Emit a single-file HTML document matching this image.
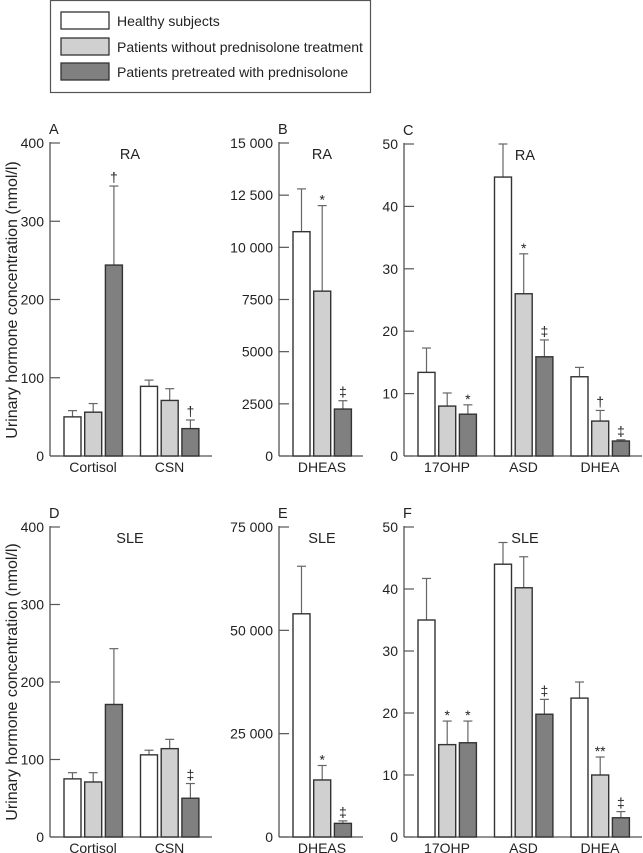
<!DOCTYPE html>
<html><head><meta charset="utf-8"><style>
body{margin:0;background:#fff}
svg{display:block;font-family:"Liberation Sans",sans-serif}
</style></head><body>
<svg id="c" width="643" height="853" viewBox="0 0 643 853">
<rect x="50.5" y="0.5" width="320" height="92" fill="#fff" stroke="#555" stroke-width="1.2"/>
<g><rect x="61" y="12" width="48" height="17" fill="#fff" stroke="#333" stroke-width="1.3"/><text x="117" y="26" font-size="14" fill="#222">Healthy subjects</text></g>
<g><rect x="61" y="38" width="48" height="17" fill="#d0d0d0" stroke="#333" stroke-width="1.3"/><text x="117" y="52" font-size="14" fill="#222">Patients without prednisolone treatment</text></g>
<g><rect x="61" y="63" width="48" height="17" fill="#808080" stroke="#333" stroke-width="1.3"/><text x="117" y="77" font-size="14" fill="#222">Patients pretreated with prednisolone</text></g>
<text transform="translate(17,300) rotate(-90)" text-anchor="middle" font-size="16" fill="#222">Urinary hormone concentration (nmol/l)</text>
<text transform="translate(17,682) rotate(-90)" text-anchor="middle" font-size="16" fill="#222">Urinary hormone concentration (nmol/l)</text>
</svg>
<script>
// Panel data
const catsA=["Cortisol","CSN"], valsA=[[50,56,244],[89,71,35]], errA=[[58,67,345],[97,86,46]], sigA=[["","","†"],["","","†"]], ticksA=[0,100,200,300,400], tickLabA=["0","100","200","300","400"];
const catsB=["DHEAS"], valsB=[[10750,7900,2250]], errB=[[12800,12000,2650]], sigB=[["","*","‡"]], ticksB=[0,2500,5000,7500,10000,12500,15000], tickLabB=["0","2500","5000","7500","10 000","12 500","15 000"];
const catsC=["17OHP","ASD","DHEA"], valsC=[[13.4,8,6.7],[44.7,26,15.9],[12.7,5.6,2.4]], errC=[[17.3,10.1,8.2],[50,32.4,18.6],[14.2,7.3,2.6]], sigC=[["","","*"],["","*","‡"],["","†","‡"]], ticksC=[0,10,20,30,40,50], tickLabC=["0","10","20","30","40","50"];
const catsD=["Cortisol","CSN"], valsD=[[75,71,171],[106,114,50]], errD=[[83,83,243],[112,126,69]], sigD=[["","",""],["","","‡"]], ticksD=[0,100,200,300,400], tickLabD=["0","100","200","300","400"];
const catsE=["DHEAS"], valsE=[[54000,13800,3300]], errE=[[65500,17300,3900]], sigE=[["","*","‡"]], ticksE=[0,25000,50000,75000], tickLabE=["0","25 000","50 000","75 000"];
const catsF=["17OHP","ASD","DHEA"], valsF=[[35,14.9,15.2],[44,40.2,19.8],[22.4,10,3.1]], errF=[[41.7,18.7,18.7],[47.5,45.2,22.2],[25,12.9,4.1]], sigF=[["","*","*"],["","","‡"],["","**","‡"]], ticksF=[0,10,20,30,40,50], tickLabF=["0","10","20","30","40","50"];

const svg=document.getElementById('c');
const NS="http://www.w3.org/2000/svg";
const fills=["#ffffff","#d0d0d0","#808080"];
function mk(tag,attrs,parent){const e=document.createElementNS(NS,tag);for(const k in attrs)e.setAttribute(k,attrs[k]);(parent||svg).appendChild(e);return e;}
function panel(id,letter,title,ax,axEnd,y0,y1,max,cats,vals,errs,sigs,ticks,labs,titleX){
  const g=mk('g',{});
  
  
  const ys=v=>y0-(v/max)*(y0-y1);
  mk('line',{x1:ax,y1:y1-1,x2:ax,y2:y0,stroke:"#555","stroke-width":1.3},g);
  mk('line',{x1:ax,y1:y0,x2:axEnd,y2:y0,stroke:"#555","stroke-width":1.3},g);
  ticks.forEach((t,i)=>{
    mk('line',{x1:ax,y1:ys(t),x2:ax+10,y2:ys(t),stroke:"#555","stroke-width":1.2},g);
    const tx=mk('text',{x:ax-6,y:ys(t)+5,"text-anchor":"end","font-size":14,fill:"#222"},g);
    tx.textContent=labs[i];
    
    
  });
  const pl=mk('text',{x:ax-1,y:y1-9,"font-size":14.5,fill:"#222"},g);pl.textContent=letter;
  
  
  const tt=mk('text',{x:titleX,y:y1+16,"text-anchor":"middle","font-size":14.5,fill:"#222"},g);tt.textContent=title;
  
  
  cats.forEach((c,ci)=>{
    const gx=ax+14+ci*76.5;
    vals[ci].forEach((v,si)=>{
      const bx=gx+si*20.7, w=17, cx=bx+w/2;
      const top=ys(errs[ci][si]);
      mk('line',{x1:cx,y1:ys(v),x2:cx,y2:top,stroke:"#666","stroke-width":1.2},g);
      mk('line',{x1:cx-4.5,y1:top,x2:cx+4.5,y2:top,stroke:"#666","stroke-width":1.2},g);
      const r=mk('rect',{x:bx,y:ys(v),width:w,height:y0-ys(v),fill:fills[si],stroke:"#333","stroke-width":1.4},g);
      
      
      if(sigs[ci][si]){
        const s=sigs[ci][si];
        const st=mk('text',{x:cx,y:top-(s[0]=="*"?1:4),"text-anchor":"middle","font-size":14,fill:"#222"},g);
        st.textContent=s;
        
        
      }
    });
    const cl=mk('text',{x:gx+29,y:y0+16,"text-anchor":"middle","font-size":14,fill:"#222"},g);
    cl.textContent=c;
    
    
  });
}
panel('a','A','RA',50,212,456,143,400,catsA,valsA,errA,sigA,ticksA,tickLabA,130);
panel('b','B','RA',279,363,456,143,15000,catsB,valsB,errB,sigB,ticksB,tickLabB,322);
panel('c','C','RA',404,642,456,144,50,catsC,valsC,errC,sigC,ticksC,tickLabC,525);
panel('d','D','SLE',50,212,837,527,400,catsD,valsD,errD,sigD,ticksD,tickLabD,130);
panel('e','E','SLE',279,363,837,527,75000,catsE,valsE,errE,sigE,ticksE,tickLabE,322);
panel('f','F','SLE',404,642,837,527,50,catsF,valsF,errF,sigF,ticksF,tickLabF,525);
</script>
</body></html>
